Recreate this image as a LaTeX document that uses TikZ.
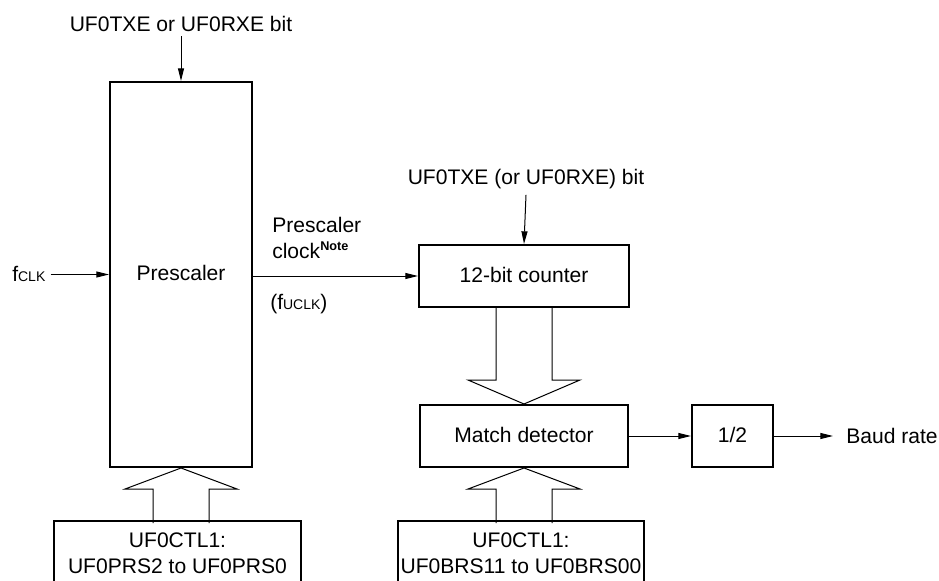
\documentclass[tikz,border=0pt]{standalone}
\usepackage{fontspec}
\setmainfont{Liberation Sans}
\usetikzlibrary{arrows.meta,calc}
\newcommand{\smc}[1]{{\fontsize{10.5}{10.5}\selectfont #1}}
\begin{document}
\begin{tikzpicture}[x=0.75pt,y=-0.75pt,
  every node/.style={font=\fontsize{15.8}{19.5}\selectfont},
  box/.style={draw,line width=1.5pt,inner sep=0pt,text height=9pt,text depth=0pt},
  bbox/.style={draw,line width=1.5pt,inner sep=0pt,align=center},
  lbl/.style={inner sep=0pt},
  arr/.style={line width=0.75pt,-{Triangle[length=9.5pt,width=4.5pt]}},
  hollow/.style={line width=0.75pt,line join=miter}]
\useasboundingbox (0,0) rectangle (939,581);
\clip (0,0) rectangle (939,581);

% boxes (sizes in pt = px * 0.75)
\node[box,minimum width=106.5pt,minimum height=288.75pt] (pre) at (181,274.5) {Prescaler};
\node[box,minimum width=157.5pt,minimum height=46.5pt] (cnt) at (524,276) {12-bit counter};
\node[box,minimum width=156pt,minimum height=46.5pt] (mtc) at (524,436) {Match detector};
\node[box,minimum width=60.75pt,minimum height=46.5pt] (half) at (732.5,436) {1/2};
\node[bbox,minimum width=185.25pt,minimum height=48pt] (botL) at (177.5,553) {UF0CTL1:\\UF0PRS2 to UF0PRS0};
\node[bbox,minimum width=184.5pt,minimum height=48pt] (botR) at (521,553) {UF0CTL1:\\UF0BRS11 to UF0BRS00};

% labels
\node[lbl,anchor=base] (t1) at (181,32) {UF0TXE or UF0RXE bit};
\node[lbl,anchor=base] (t2) at (526,185) {UF0TXE (or UF0RXE) bit};
\node[lbl,anchor=base west] (fclk) at (12,281) {f\smc{CLK}};
\node[lbl,anchor=south west,align=left] (pclk) at (272,259) {Prescaler\\clock\raisebox{6pt}{\fontsize{9.5}{9.5}\selectfont\bfseries Note}};
\node[lbl,anchor=base west] (fuclk) at (270,309) {(f\smc{UCLK})};
\node[lbl,anchor=base west] (baud) at (846,443) {Baud rate};

% arrows
\draw[arr] ([yshift=-3pt]t1.south) -- (pre.north);
\draw[arr] ([yshift=-4pt]t2.south) -- (cnt.north);
\draw[arr] ([xshift=3.75pt]fclk.east |- pre.west) -- (pre.west);
\draw[arr] (pre.east |- cnt.west) -- (cnt.west);
\draw[arr] (mtc.east) -- (half.west);
\draw[arr] (half.east) -- ([xshift=-9.75pt]baud.west |- half.east);

% hollow arrows
\draw[hollow] ($(pre.south)+(-28,55)$) -- ++(0,-34) -- ++(-28,0) -- (pre.south) -- ++(56,21) -- ++(-28,0) -- ++(0,34);
\draw[hollow] ($(mtc.south)+(-28,55)$) -- ++(0,-34) -- ++(-28,0) -- (mtc.south) -- ++(56,21) -- ++(-28,0) -- ++(0,34);
\draw[hollow] ($(mtc.north)+(-28,-98)$) -- ++(0,74) -- ++(-28,0) -- (mtc.north) -- ++(56,-24) -- ++(-28,0) -- ++(0,-74);
\end{tikzpicture}
\end{document}
